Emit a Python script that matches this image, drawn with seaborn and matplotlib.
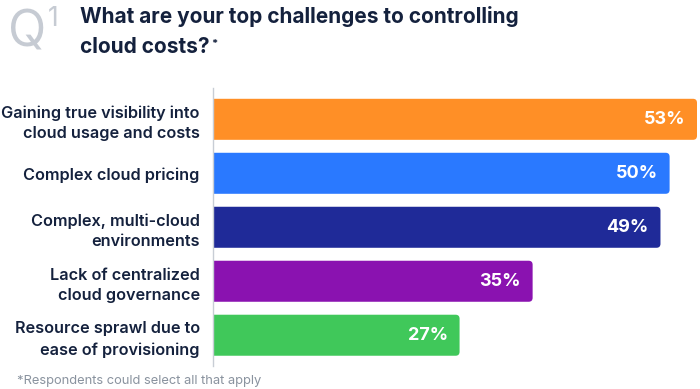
import matplotlib
matplotlib.use("Agg")
import matplotlib.pyplot as plt
import seaborn as sns
import pandas as pd
from matplotlib.patches import FancyBboxPatch

categories = [
    "Gaining true visibility into\ncloud usage and costs",
    "Complex cloud pricing",
    "Complex, multi-cloud\nenvironments",
    "Lack of centralized\ncloud governance",
    "Resource sprawl due to\nease of provisioning",
]
values = [53, 50, 49, 35, 27]
bar_colors = ["#FF8F26", "#2A79FF", "#1F2A98", "#8A12B0", "#40C85A"]
value_labels = ["53%", "50%", "49%", "35%", "27%"]

title = "What are your top challenges to controlling\ncloud costs?"
footnote = "*Respondents could select all that apply"

sns.set_theme(style="white")
plt.rcParams["font.family"] = ["Inter", "DejaVu Sans"]

df = pd.DataFrame({"cat": categories, "val": values})

fig = plt.figure(figsize=(7, 3.89), dpi=100)
ax = fig.add_axes([213 / 700, 1 - 366 / 389, (697 - 213) / 700, (366 - 88) / 389])

sns.barplot(data=df, x="val", y="cat", hue="cat", palette=bar_colors,
            legend=False, ax=ax, width=0.76, orient="h", saturation=1)

ax.set_xlim(0, 53)
ax.set_ylim(4.57, -0.58)

# replace bars by rounded ones
px_x = 484 / 53.0
px_y = 54.0
r = 4.0
for p in list(ax.patches):
    x0, y0 = p.get_x(), p.get_y()
    w, h = p.get_width(), p.get_height()
    fc = p.get_facecolor()
    p.remove()
    fb = FancyBboxPatch((x0 - 1.0, y0), w + 1.0, h,
                        boxstyle=f"round,pad=0,rounding_size={r / px_x}",
                        mutation_aspect=px_x / px_y,
                        facecolor=fc, edgecolor="none", clip_on=True, zorder=2)
    ax.add_patch(fb)

for i, (v, lab) in enumerate(zip(values, value_labels)):
    ax.text(v - 1.3, i, lab, ha="right", va="center", color="white",
            fontsize=13, fontweight="bold", zorder=3)

ax.set_xlabel("")
ax.set_ylabel("")
ax.set_xticks([])
ax.tick_params(axis="y", length=0, pad=9.5)
for t in ax.get_yticklabels():
    t.set_fontsize(11.7)
    t.set_fontweight("semibold")
    t.set_color("#14213D")
    t.set_linespacing(1.45)

for s in ["top", "right", "bottom"]:
    ax.spines[s].set_visible(False)
ax.spines["left"].set_color("#C8CDD5")
ax.spines["left"].set_linewidth(1.0)
ax.set_facecolor("none")

# Title block
fig.text(8 / 700, 1 - 46 / 389, "Q", fontsize=36, color="#C6CBD3", ha="left",
         va="baseline", fontweight="normal")
fig.text(48 / 700, 1 - 26 / 389, "1", fontsize=19, color="#C6CBD3", ha="left",
         va="baseline", fontweight="normal")
fig.text(80 / 700, 1 - 23 / 389, "What are your top challenges to controlling",
         fontsize=15, fontweight="bold", color="#14213D", ha="left", va="baseline")
fig.text(80 / 700, 1 - 53 / 389, "cloud costs?",
         fontsize=15, fontweight="bold", color="#14213D", ha="left", va="baseline")
fig.text(211 / 700, 1 - 47 / 389, "*", fontsize=8, fontweight="bold",
         color="#14213D", ha="left", va="baseline")

fig.text(17 / 700, 1 - 384 / 389, footnote, fontsize=9.3, color="#8A939F",
         ha="left", va="baseline")

fig.savefig("out.png", dpi=100)
